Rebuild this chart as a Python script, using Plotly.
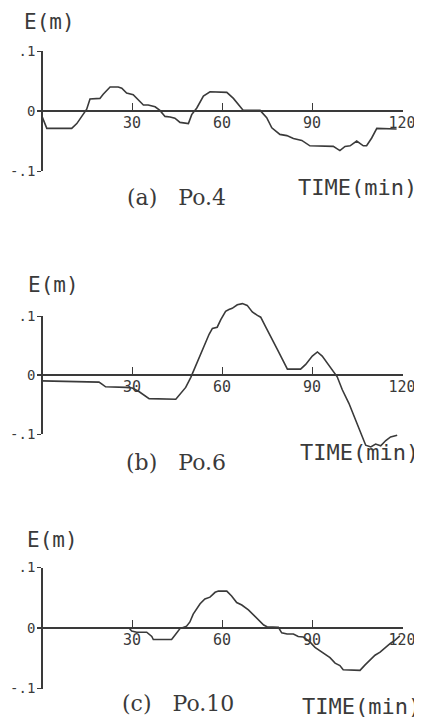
import plotly.graph_objects as go

# ---- data: time (min) vs E (m)
a_time = [0, 1.6, 9.9, 11.6, 14.9, 16, 19.3, 20.4, 22.7, 25.4, 26.6, 28.2, 30.4, 32.1, 33.8, 35.4,
          37.7, 39.3, 41, 42.7, 44.3, 46, 48.8, 49.9, 51.6, 53.8, 56, 61.6, 63.8, 67.1, 72.7, 74.9,
          76.6, 79.3, 81.6, 83.8, 86.6, 89.3, 97.1, 99.3, 101, 102.7, 104.9, 107.1, 108.2, 109.9,
          111.6, 118.2]
a_e = [-0.009, -0.029, -0.029, -0.021, 0.003, 0.020, 0.021, 0.028, 0.040, 0.040, 0.038, 0.030,
       0.027, 0.018, 0.010, 0.010, 0.007, 0.001, -0.009, -0.010, -0.012, -0.019, -0.021, -0.006,
       0.005, 0.025, 0.032, 0.031, 0.021, 0.001, 0.001, -0.011, -0.028, -0.039, -0.041, -0.046,
       -0.049, -0.058, -0.059, -0.066, -0.059, -0.058, -0.050, -0.058, -0.058, -0.045, -0.029, -0.030]

b_time = [0, 19, 20.1, 21.2, 27.9, 30.1, 32.3, 34.6, 35.7, 44.6, 46.2, 47.9, 49.6, 51.2, 53.4,
          55.7, 56.8, 58.4, 59.6, 61.2, 62.3, 63.4, 65.1, 66.8, 68.4, 70.1, 71.8, 72.9, 74.6, 76.8,
          78.4, 80.1, 81.8, 86.2, 87.9, 90.1, 91.8, 93.4, 95.1, 96.8, 98.4, 100.1, 102.3, 104.6,
          106.2, 107.9, 109.6, 111.2, 112.9, 114.6, 116.2, 118.4]
b_e = [-0.010, -0.012, -0.016, -0.020, -0.021, -0.022, -0.028, -0.037, -0.040, -0.041, -0.032,
       -0.021, -0.004, 0.015, 0.043, 0.069, 0.079, 0.081, 0.094, 0.108, 0.111, 0.113, 0.119, 0.121,
       0.118, 0.107, 0.101, 0.098, 0.081, 0.058, 0.044, 0.027, 0.010, 0.010, 0.018, 0.032, 0.039,
       0.032, 0.020, 0.009, -0.003, -0.025, -0.048, -0.077, -0.099, -0.119, -0.122, -0.117, -0.120,
       -0.111, -0.105, -0.102]

c_time = [0, 29, 29.9, 31.6, 34.9, 36.6, 37.1, 43.2, 44.3, 46, 48.2, 49.3, 50.4, 52.7, 54.3, 56,
          57.7, 58.8, 61.6, 63.2, 64.9, 66.6, 68.8, 70.4, 72.1, 73.9, 75, 78.8, 79.9, 81.7, 83.8,
          85.4, 87.1, 89.3, 91, 92.7, 94.3, 96, 97.7, 99.3, 100.4, 106, 107.7, 109.3, 111, 112.7,
          114.3, 116, 117.7, 119.3]
c_e = [0.0, 0.0, -0.005, -0.007, -0.007, -0.014, -0.019, -0.019, -0.012, -0.001, 0.003, 0.010,
       0.023, 0.040, 0.048, 0.051, 0.059, 0.061, 0.061, 0.053, 0.042, 0.038, 0.030, 0.022, 0.013,
       0.005, 0.002, 0.001, -0.008, -0.010, -0.010, -0.014, -0.015, -0.023, -0.032, -0.038, -0.044,
       -0.049, -0.058, -0.062, -0.069, -0.070, -0.061, -0.053, -0.045, -0.040, -0.033, -0.026,
       -0.020, -0.013]

x_ticks = [30, 60, 90, 120]
y_ticks = [-0.1, 0, 0.1]
y_ticktext = ["-.1", "0", ".1"]
captions = ["(a)\u00a0\u00a0\u00a0Po.4", "(b)\u00a0\u00a0\u00a0Po.6", "(c)\u00a0\u00a0\u00a0Po.10"]

panels = [(a_time, a_e), (b_time, b_e), (c_time, c_e)]

# ---- layout in (reference) pixels; the page body has an 8px margin
OFF = 8
W, H = 422 - OFF, 721 - OFF
INK = "#3a3a3a"
MONO = "DejaVu Sans Mono"
SERIF = "DejaVu Serif"
X0PX, PXMIN = 42, 3.0          # x pixel of t=0, pixels per minute
XR = [-1.7, 120.3]
# per panel: pixel y of zero, pixels per 0.1 m, label centres
geo = [
    dict(zero=111, s=60.0, em=(49, 22), time=(357, 187), cap=(176, 198)),
    dict(zero=375, s=59.0, em=(53, 285), time=(359, 452), cap=(176, 463)),
    dict(zero=628, s=60.5, em=(52, 540), time=(361, 706), cap=(178, 703)),
]


def py(p):
    return 1 - (p - OFF) / H


def px(p):
    return (p - OFF) / W


fig = go.Figure()
layout = dict(width=W, height=H, margin=dict(l=0, r=0, t=0, b=0, pad=0, autoexpand=False),
              paper_bgcolor="white", plot_bgcolor="rgba(0,0,0,0)",
              showlegend=False, hovermode=False, annotations=[])

xdom = [px(X0PX + XR[0] * PXMIN), px(X0PX + XR[1] * PXMIN)]

for i, ((t, e), g) in enumerate(zip(panels, geo)):
    xn = i + 1
    yd = 2 * i + 1       # data axis
    yv = 2 * i + 2       # visible axis
    xs = "" if xn == 1 else str(xn)
    yds = "" if yd == 1 else str(yd)
    fig.add_trace(go.Scatter(x=t, y=e, mode="lines", xaxis="x" + xs, yaxis="y" + yds,
                             line=dict(color=INK, width=1.6)))
    fig.add_trace(go.Scatter(x=[None], y=[None], mode="lines", xaxis="x" + xs,
                             yaxis="y" + str(yv)))

    k = g["s"] / 0.1
    layout["xaxis" + xs] = dict(
        domain=xdom, range=XR, anchor="free", position=py(g["zero"]), automargin=False,
        showline=True, linecolor=INK, linewidth=1.6, showgrid=False, zeroline=False,
        ticks="inside", ticklen=7, tickwidth=1.4, tickcolor=INK,
        tickvals=x_ticks, ticktext=[str(v) for v in x_ticks],
        tickfont=dict(family=MONO, size=15, color=INK), ticklabelstandoff=-2)
    layout["yaxis" + yds] = dict(
        domain=[py(g["zero"] + 0.15 * k), py(g["zero"] - 0.15 * k)], range=[-0.15, 0.15],
        anchor="x" + xs, visible=False, automargin=False)
    layout["yaxis" + str(yv)] = dict(
        domain=[py(g["zero"] + 0.1 * k), py(g["zero"] - 0.1 * k)], range=[-0.1, 0.1],
        anchor="free", position=px(X0PX), automargin=False,
        showline=True, linecolor=INK, linewidth=1.6, showgrid=False, zeroline=False,
        ticks="outside", ticklen=4, tickwidth=1.4, tickcolor=INK,
        tickvals=y_ticks, ticktext=y_ticktext, ticklabelstandoff=-1,
        tickfont=dict(family=MONO, size=14, color=INK))

    common = dict(xref="paper", yref="paper", xanchor="center", yanchor="middle",
                  showarrow=False)
    layout["annotations"] += [
        dict(text="E(m)", x=px(g["em"][0]), y=py(g["em"][1]),
             font=dict(family=MONO, size=21, color=INK), **common),
        dict(text="TIME(min)", x=px(g["time"][0]), y=py(g["time"][1]),
             font=dict(family=MONO, size=22, color=INK), **common),
        dict(text=captions[i], x=px(g["cap"][0]), y=py(g["cap"][1]),
             font=dict(family=SERIF, size=22, color=INK), **common),
    ]

fig.update_layout(**layout)
fig.write_html("out.html")
